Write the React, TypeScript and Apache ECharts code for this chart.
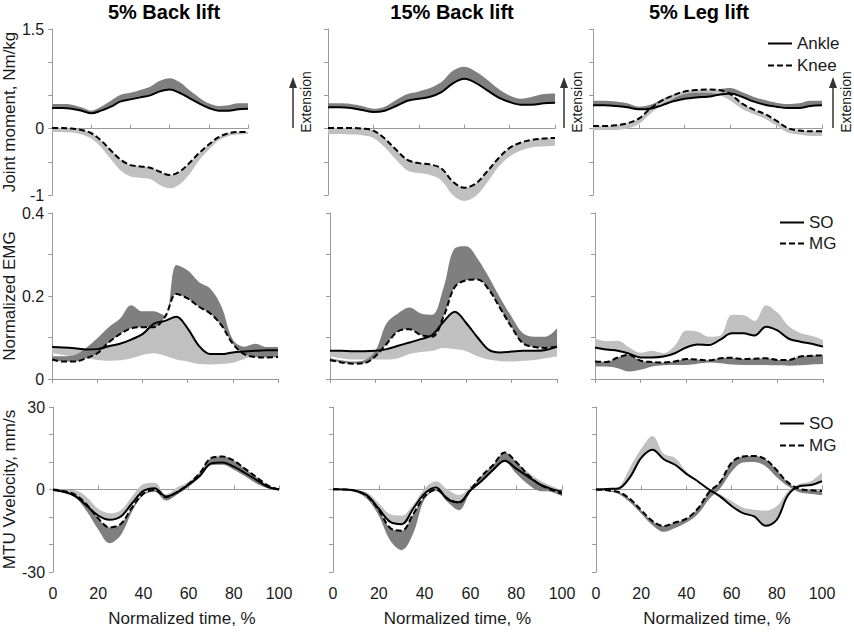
import React, { useEffect, useRef } from 'react';
import * as echarts from 'echarts';

// ---------- data ----------
const TIME = [0, 5, 10, 15, 20, 25, 30, 35, 40, 45, 50, 55, 60, 65, 70, 75, 80, 85, 90, 95, 100];
const CONDITIONS = ['5% Back lift', '15% Back lift', '5% Leg lift'];

const MOMENT_TICK_LABELS = [-1, 0, 1.5];
const EMG_TICK_LABELS = [0, 0.2, 0.4];
const VELOCITY_TICK_LABELS = [-30, 0, 30];

// Joint moment, Nm/kg (line and the outer edge of its shaded SD band)
const ANKLE_BACK5 = [0.31, 0.31, 0.30, 0.27, 0.23, 0.27, 0.33, 0.41, 0.44, 0.47, 0.50, 0.56, 0.59, 0.54, 0.46, 0.38, 0.31, 0.27, 0.27, 0.29, 0.30];
const ANKLE_BACK5_EDGE = [0.37, 0.37, 0.36, 0.32, 0.27, 0.33, 0.42, 0.51, 0.54, 0.58, 0.63, 0.72, 0.76, 0.70, 0.58, 0.47, 0.38, 0.34, 0.35, 0.38, 0.38];
const KNEE_BACK5 = [0.01, 0.01, 0.00, -0.02, -0.07, -0.18, -0.33, -0.47, -0.55, -0.57, -0.59, -0.65, -0.70, -0.65, -0.52, -0.37, -0.24, -0.13, -0.07, -0.05, -0.05];
const KNEE_BACK5_EDGE = [-0.05, -0.05, -0.06, -0.09, -0.15, -0.28, -0.46, -0.63, -0.72, -0.74, -0.76, -0.85, -0.90, -0.84, -0.69, -0.48, -0.32, -0.18, -0.11, -0.09, -0.08];

const ANKLE_BACK15 = [0.32, 0.32, 0.31, 0.28, 0.25, 0.27, 0.34, 0.42, 0.45, 0.48, 0.55, 0.68, 0.75, 0.69, 0.58, 0.47, 0.40, 0.36, 0.36, 0.38, 0.39];
const ANKLE_BACK15_EDGE = [0.38, 0.38, 0.37, 0.34, 0.30, 0.33, 0.43, 0.52, 0.56, 0.61, 0.70, 0.87, 0.93, 0.86, 0.74, 0.60, 0.50, 0.45, 0.48, 0.52, 0.53];
const KNEE_BACK15 = [0.01, 0.01, 0.01, 0.00, -0.03, -0.15, -0.32, -0.47, -0.52, -0.54, -0.60, -0.80, -0.89, -0.83, -0.65, -0.45, -0.29, -0.21, -0.17, -0.15, -0.14];
const KNEE_BACK15_EDGE = [-0.08, -0.08, -0.09, -0.10, -0.14, -0.28, -0.47, -0.63, -0.67, -0.70, -0.78, -1.00, -1.09, -1.02, -0.82, -0.58, -0.42, -0.33, -0.28, -0.27, -0.26];

const ANKLE_LEG5 = [0.35, 0.35, 0.34, 0.32, 0.29, 0.30, 0.35, 0.41, 0.45, 0.47, 0.48, 0.51, 0.53, 0.48, 0.41, 0.36, 0.33, 0.31, 0.31, 0.34, 0.35];
const ANKLE_LEG5_EDGE = [0.42, 0.42, 0.41, 0.38, 0.33, 0.36, 0.44, 0.51, 0.55, 0.55, 0.55, 0.59, 0.61, 0.55, 0.48, 0.43, 0.39, 0.37, 0.38, 0.42, 0.42];
const KNEE_LEG5 = [0.04, 0.04, 0.05, 0.08, 0.15, 0.30, 0.42, 0.50, 0.56, 0.58, 0.59, 0.58, 0.52, 0.38, 0.29, 0.22, 0.12, 0.01, -0.03, -0.04, -0.04];
const KNEE_LEG5_EDGE = [-0.02, -0.02, -0.02, 0.00, 0.07, 0.22, 0.35, 0.45, 0.52, 0.54, 0.54, 0.51, 0.42, 0.30, 0.22, 0.15, 0.05, -0.06, -0.09, -0.11, -0.11];

// Normalized EMG
const SO_EMG_BACK5 = [0.077, 0.076, 0.074, 0.071, 0.072, 0.079, 0.085, 0.095, 0.108, 0.133, 0.140, 0.150, 0.122, 0.080, 0.060, 0.060, 0.064, 0.066, 0.068, 0.069, 0.069];
const SO_EMG_BACK5_EDGE = [0.062, 0.058, 0.053, 0.050, 0.046, 0.044, 0.045, 0.050, 0.058, 0.062, 0.056, 0.047, 0.042, 0.036, 0.035, 0.036, 0.039, 0.048, 0.057, 0.060, 0.062];
const MG_EMG_BACK5 = [0.047, 0.042, 0.042, 0.050, 0.062, 0.088, 0.108, 0.122, 0.125, 0.125, 0.150, 0.205, 0.194, 0.174, 0.158, 0.129, 0.085, 0.060, 0.053, 0.052, 0.053];
const MG_EMG_BACK5_EDGE = [0.055, 0.055, 0.058, 0.075, 0.098, 0.125, 0.145, 0.178, 0.163, 0.163, 0.152, 0.275, 0.262, 0.234, 0.218, 0.174, 0.095, 0.078, 0.085, 0.077, 0.077];

const SO_EMG_BACK15 = [0.068, 0.068, 0.067, 0.067, 0.068, 0.072, 0.080, 0.088, 0.096, 0.106, 0.138, 0.162, 0.135, 0.100, 0.070, 0.064, 0.066, 0.068, 0.068, 0.070, 0.078];
const SO_EMG_BACK15_EDGE = [0.055, 0.050, 0.047, 0.047, 0.047, 0.047, 0.050, 0.060, 0.065, 0.068, 0.075, 0.072, 0.067, 0.055, 0.047, 0.043, 0.042, 0.044, 0.046, 0.050, 0.054];
const MG_EMG_BACK15 = [0.046, 0.040, 0.037, 0.038, 0.055, 0.085, 0.115, 0.120, 0.106, 0.102, 0.150, 0.222, 0.238, 0.240, 0.215, 0.170, 0.125, 0.086, 0.077, 0.075, 0.078];
const MG_EMG_BACK15_EDGE = [0.050, 0.045, 0.042, 0.045, 0.068, 0.135, 0.158, 0.172, 0.158, 0.155, 0.220, 0.315, 0.320, 0.290, 0.245, 0.195, 0.150, 0.110, 0.102, 0.102, 0.122];

const SO_EMG_LEG5 = [0.076, 0.071, 0.068, 0.061, 0.052, 0.052, 0.054, 0.062, 0.076, 0.083, 0.082, 0.095, 0.110, 0.110, 0.105, 0.126, 0.117, 0.097, 0.090, 0.085, 0.078];
const SO_EMG_LEG5_EDGE = [0.098, 0.091, 0.092, 0.076, 0.063, 0.068, 0.062, 0.080, 0.117, 0.114, 0.102, 0.105, 0.155, 0.154, 0.140, 0.178, 0.160, 0.127, 0.111, 0.104, 0.094];
const MG_EMG_LEG5 = [0.042, 0.041, 0.052, 0.058, 0.044, 0.041, 0.040, 0.042, 0.048, 0.047, 0.045, 0.050, 0.051, 0.048, 0.049, 0.050, 0.046, 0.046, 0.054, 0.056, 0.057];
const MG_EMG_LEG5_EDGE = [0.030, 0.030, 0.026, 0.018, 0.022, 0.030, 0.033, 0.034, 0.034, 0.037, 0.040, 0.038, 0.035, 0.034, 0.034, 0.034, 0.033, 0.032, 0.033, 0.035, 0.036];

// MTU velocity, mm/s
const SO_VEL_BACK5 = [-0.2, -0.9, -2.5, -6.0, -9.5, -11.0, -9.8, -5.0, -0.5, 0.5, -2.5, -1.0, 1.8, 5.0, 9.5, 9.8, 8.3, 6.0, 3.5, 1.0, 0.0];
const SO_VEL_BACK5_EDGE = [0.0, -0.1, -0.4, -2.8, -7.0, -8.6, -7.5, -2.5, 2.0, 2.5, -1.8, 0.8, 2.8, 6.5, 10.8, 11.2, 9.5, 7.0, 4.2, 1.5, 0.2];
const MG_VEL_BACK5 = [0.0, -0.6, -2.0, -5.5, -10.5, -13.8, -12.5, -6.5, -1.5, -0.2, -2.8, -0.8, 2.0, 6.0, 11.5, 12.0, 10.5, 7.5, 4.5, 1.5, 0.0];
const MG_VEL_BACK5_EDGE = [-0.2, -1.2, -3.0, -8.0, -14.5, -19.5, -16.5, -8.0, -2.0, -0.8, -4.0, -1.8, 1.0, 4.5, 8.8, 9.0, 7.2, 4.8, 2.2, 0.5, -0.2];

const SO_VEL_BACK15 = [0.1, 0.0, -0.5, -2.2, -7.0, -11.8, -12.6, -7.0, -1.5, 0.7, -3.5, -4.6, -0.3, 3.2, 7.2, 10.5, 7.6, 4.8, 2.0, 0.3, -0.8];
const SO_VEL_BACK15_EDGE = [0.2, 0.2, -0.1, -1.2, -5.0, -9.0, -9.5, -5.5, 0.3, 3.0, 0.0, -2.0, 0.8, 4.5, 8.5, 13.0, 10.0, 6.5, 3.5, 1.5, -0.2];
const MG_VEL_BACK15 = [0.1, 0.0, -0.5, -2.5, -7.5, -14.0, -15.0, -9.0, -2.5, 0.0, -3.2, -4.8, 0.0, 5.0, 9.0, 13.5, 10.0, 5.5, 2.0, 0.0, -1.5];
const MG_VEL_BACK15_EDGE = [0.0, -0.2, -1.0, -3.5, -9.5, -18.5, -22.0, -16.0, -3.5, -0.5, -4.5, -7.5, -1.0, 3.0, 7.0, 10.0, 5.8, 2.0, -0.5, -0.8, -2.4];

const SO_VEL_LEG5 = [0.0, 0.2, 0.4, 4.4, 11.5, 14.5, 11.0, 9.0, 5.7, 3.0, 0.0, -2.6, -6.0, -8.6, -9.8, -13.2, -11.0, -2.0, 1.2, 1.6, 3.0];
const SO_VEL_LEG5_EDGE = [0.0, 0.2, 0.9, 8.0, 14.8, 19.5, 13.0, 11.5, 6.5, 3.0, -0.2, -1.8, -4.2, -6.5, -7.4, -7.7, -6.0, -0.6, 2.0, 3.0, 6.2];
const MG_VEL_LEG5 = [0.0, -0.3, -0.9, -3.4, -7.5, -11.5, -13.3, -12.0, -10.6, -7.0, -1.0, 2.8, 9.8, 12.0, 12.2, 11.0, 7.0, 2.5, 0.2, -0.3, -0.5];
const MG_VEL_LEG5_EDGE = [0.0, -0.6, -1.6, -4.6, -8.8, -13.0, -15.4, -14.0, -12.0, -9.0, -3.5, 0.5, 6.5, 9.8, 10.0, 8.5, 4.5, 1.2, -1.0, -1.6, -2.0];

// ---------- styling / layout ----------
const FONT = '"Liberation Sans", Arial, Helvetica, sans-serif';
const TEXT = '#1a1a1a';
const AXIS = '#9a9a9a';
const DARK = '#7f7f7f';
const LIGHT = '#c0c0c0';
const SMOOTH = 0.35;
const DASH = [6, 3];

const GRIDS = [
  { left: 51, top: 29, width: 197, height: 166 },
  { left: 328, top: 29, width: 227, height: 166 },
  { left: 593, top: 29, width: 229, height: 166 },
  { left: 52, top: 213, width: 226, height: 166 },
  { left: 330, top: 213, width: 227, height: 166 },
  { left: 595, top: 213, width: 228, height: 166 },
  { left: 52, top: 407, width: 227, height: 165 },
  { left: 333, top: 407, width: 229, height: 165 },
  { left: 596, top: 407, width: 226, height: 165 },
];
const TITLE_X = [164, 452, 699];
const EXT_ARROW_X = [293, 564, 833];
const EXT_TEXT_X = [306, 577, 846];
const XNAME_SHIFT = [16, 10, 8];

const ROWS = [
  {
    axisName: 'Joint moment, Nm/kg', min: -1, max: 1.5, interval: 0.5, labels: MOMENT_TICK_LABELS,
    names: ['Ankle', 'Knee'], bandA: DARK, bandB: LIGHT,
    panels: [
      [ANKLE_BACK5, ANKLE_BACK5_EDGE, KNEE_BACK5, KNEE_BACK5_EDGE],
      [ANKLE_BACK15, ANKLE_BACK15_EDGE, KNEE_BACK15, KNEE_BACK15_EDGE],
      [ANKLE_LEG5, ANKLE_LEG5_EDGE, KNEE_LEG5, KNEE_LEG5_EDGE],
    ],
  },
  {
    axisName: 'Normalized EMG', min: 0, max: 0.4, interval: 0.1, labels: EMG_TICK_LABELS,
    names: ['SO', 'MG'], bandA: LIGHT, bandB: DARK,
    panels: [
      [SO_EMG_BACK5, SO_EMG_BACK5_EDGE, MG_EMG_BACK5, MG_EMG_BACK5_EDGE],
      [SO_EMG_BACK15, SO_EMG_BACK15_EDGE, MG_EMG_BACK15, MG_EMG_BACK15_EDGE],
      [SO_EMG_LEG5, SO_EMG_LEG5_EDGE, MG_EMG_LEG5, MG_EMG_LEG5_EDGE],
    ],
  },
  {
    axisName: 'MTU Vvelocity, mm/s', min: -30, max: 30, interval: 10, labels: VELOCITY_TICK_LABELS,
    names: ['SO', 'MG'], bandA: LIGHT, bandB: DARK,
    panels: [
      [SO_VEL_BACK5, SO_VEL_BACK5_EDGE, MG_VEL_BACK5, MG_VEL_BACK5_EDGE],
      [SO_VEL_BACK15, SO_VEL_BACK15_EDGE, MG_VEL_BACK15, MG_VEL_BACK15_EDGE],
      [SO_VEL_LEG5, SO_VEL_LEG5_EDGE, MG_VEL_LEG5, MG_VEL_LEG5_EDGE],
    ],
  },
];

function buildOption() {
  const categories = TIME.map(String);
  const grid: any[] = [];
  const xAxis: any[] = [];
  const yAxis: any[] = [];
  const series: any[] = [];
  let bandId = 0;

  const band = (xi: number, yi: number, line: number[], edge: number[], color: string) => {
    const stack = 'band' + bandId++;
    const lower = line.map((v, i) => Math.min(v, edge[i]));
    const span = line.map((v, i) => Math.abs(v - edge[i]));
    const common = {
      type: 'line', xAxisIndex: xi, yAxisIndex: yi, stack, stackStrategy: 'all',
      smooth: SMOOTH, symbol: 'none', showSymbol: false, silent: true, clip: false, z: 1,
      lineStyle: { width: 0, opacity: 0 },
    };
    series.push({ ...common, name: stack + '_base', data: lower });
    series.push({ ...common, name: stack + '_sd', data: span, areaStyle: { color, opacity: 1 } });
  };

  ROWS.forEach((row, r) => {
    row.panels.forEach((p, c) => {
      const g = r * 3 + c;
      grid.push({ ...GRIDS[g], containLabel: false });
      yAxis.push({
        type: 'value', gridIndex: g, min: row.min, max: row.max, interval: row.interval,
        axisLine: { show: true, onZero: false, lineStyle: { color: AXIS, width: 1 } },
        axisTick: { show: true, length: 4, lineStyle: { color: AXIS } },
        splitLine: { show: false },
        axisLabel: c === 0 ? {
          show: true, fontSize: 16, color: TEXT, fontFamily: FONT, margin: 8,
          formatter: (v: number) => (row.labels.some((l) => Math.abs(l - v) < 1e-9) ? String(+v.toFixed(2)) : ''),
        } : { show: false },
        name: c === 0 ? row.axisName : '',
        nameLocation: 'middle', nameGap: 31,
        nameTextStyle: { fontSize: 17, color: TEXT, fontFamily: FONT },
      });
      const xi = xAxis.length;
      xAxis.push({
        type: 'category', gridIndex: g, data: categories, boundaryGap: false, position: 'bottom',
        axisLine: { show: true, onZero: true, lineStyle: { color: AXIS, width: 1 } },
        axisTick: { show: true, interval: 3, length: 4, inside: r !== 1, lineStyle: { color: AXIS } },
        axisLabel: { show: false },
        splitLine: { show: false },
      });
      if (r === 2) {
        xAxis.push({
          type: 'category', gridIndex: g, data: categories, boundaryGap: false, position: 'bottom',
          axisLine: { show: false, onZero: false },
          axisTick: { show: false },
          axisLabel: { show: true, interval: 3, fontSize: 16, color: TEXT, fontFamily: FONT, margin: 13 },
          splitLine: { show: false },
          name: 'Normalized time, %', nameLocation: 'middle', nameGap: 38,
          nameTextStyle: { fontSize: 17, color: TEXT, fontFamily: FONT, padding: [0, 0, 0, XNAME_SHIFT[c] * 2] },
        });
      }
      const [a, aEdge, b, bEdge] = p;
      band(xi, g, a, aEdge, row.bandA);
      band(xi, g, b, bEdge, row.bandB);
      series.push({
        type: 'line', name: row.names[0], xAxisIndex: xi, yAxisIndex: g, data: a,
        smooth: SMOOTH, symbol: 'none', showSymbol: false, silent: true, clip: false, z: 3,
        color: '#000', lineStyle: { color: '#000', width: 2, type: 'solid' },
      });
      series.push({
        type: 'line', name: row.names[1], xAxisIndex: xi, yAxisIndex: g, data: b,
        smooth: SMOOTH, symbol: 'none', showSymbol: false, silent: true, clip: false, z: 3,
        color: '#000', lineStyle: { color: '#000', width: 2, type: DASH },
      });
    });
  });

  const legendBase = {
    orient: 'vertical', selectedMode: false, itemHeight: 14, itemGap: 5, itemWidth: 24,
    itemStyle: { opacity: 0, borderWidth: 0 },
    textStyle: { fontSize: 17, color: TEXT, fontFamily: FONT },
  };
  const legend = [
    { ...legendBase, data: ['Ankle', 'Knee'], left: 762, top: 30 },
    { ...legendBase, data: ['SO', 'MG'], left: 774, top: 209, itemGap: 4 },
    { ...legendBase, data: ['SO', 'MG'], left: 774, top: 410 },
  ];

  const graphic: any[] = [];
  CONDITIONS.forEach((t, c) => {
    graphic.push({
      type: 'text', x: TITLE_X[c], y: 12,
      style: {
        text: t, fill: '#000', font: `bold 20px ${FONT}`,
        align: 'center', verticalAlign: 'middle', textAlign: 'center', textVerticalAlign: 'middle',
      },
    });
    graphic.push({
      type: 'line', shape: { x1: EXT_ARROW_X[c], y1: 128, x2: EXT_ARROW_X[c], y2: 86 },
      style: { stroke: '#333', lineWidth: 1.5 },
    });
    graphic.push({
      type: 'polygon',
      shape: { points: [[EXT_ARROW_X[c], 77], [EXT_ARROW_X[c] - 4, 88], [EXT_ARROW_X[c] + 4, 88]] },
      style: { fill: '#333' },
    });
    graphic.push({
      type: 'text', x: EXT_TEXT_X[c], y: 102, rotation: Math.PI / 2,
      style: {
        text: 'Extension', fill: TEXT, font: `14px ${FONT}`,
        align: 'center', verticalAlign: 'middle', textAlign: 'center', textVerticalAlign: 'middle',
      },
    });
  });

  return {
    animation: false,
    backgroundColor: '#fff',
    textStyle: { fontFamily: FONT },
    grid, xAxis, yAxis, series, legend, graphic,
  };
}

export default function App() {
  const ref = useRef<HTMLDivElement>(null);
  useEffect(() => {
    if (!ref.current) return;
    const chart = echarts.init(ref.current, undefined, { renderer: 'svg', width: 854, height: 634 });
    chart.setOption(buildOption() as any);
    return () => chart.dispose();
  }, []);
  return (
    <div
      ref={ref}
      style={{ position: 'absolute', left: 0, top: 0, width: 854, height: 634, background: '#fff' }}
    />
  );
}
